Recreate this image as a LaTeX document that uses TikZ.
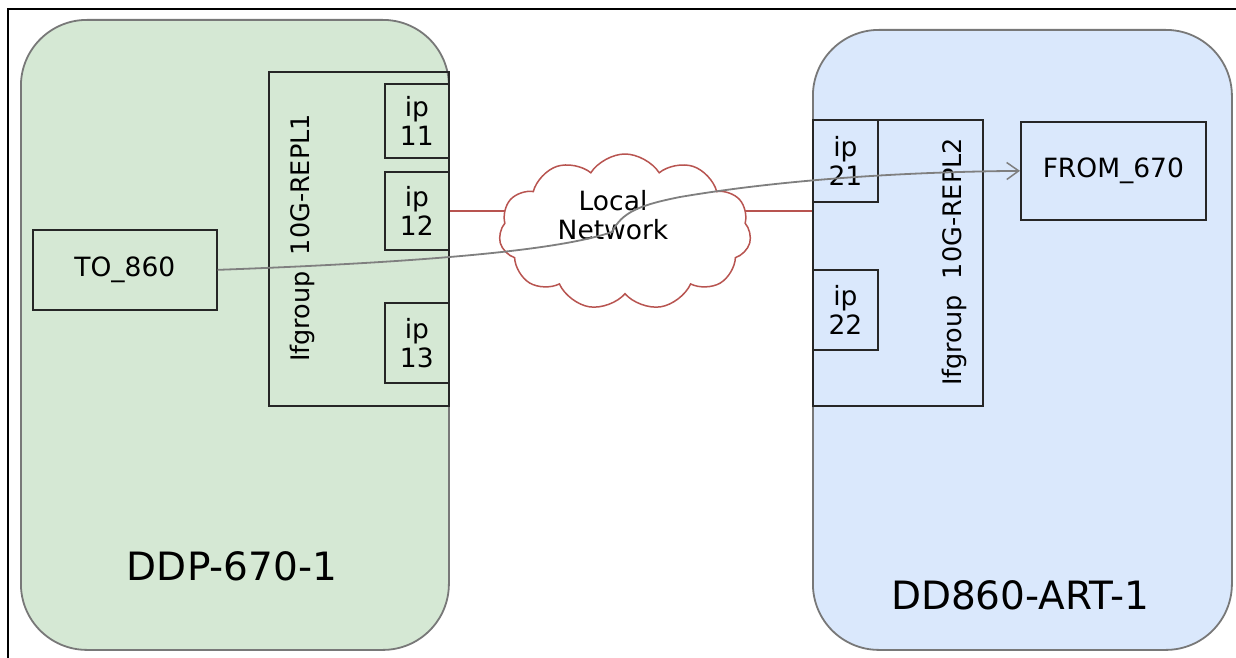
\documentclass[tikz,border=0pt]{standalone}
\usepackage{fontspec}
\setmainfont{DejaVu Sans}
\usetikzlibrary{shapes.symbols,arrows.meta}
\definecolor{gfill}{HTML}{D5E8D4}
\definecolor{bfill}{HTML}{DAE8FC}
\definecolor{cloudred}{HTML}{B85450}
\definecolor{edgegray}{HTML}{7F7F7F}
\definecolor{cgray}{HTML}{787878}
\begin{document}
\begin{tikzpicture}[x=1pt,y=-1pt,
  container/.style={draw=cgray, line width=1.8pt, rounded corners=66pt, anchor=north west, inner sep=0pt},
  box/.style={draw=black!85, line width=1.7pt, anchor=north west, inner sep=0pt},
  txt/.style={font=\fontsize{26.5}{29}\selectfont, align=center, inner sep=0pt},
  vtxt/.style={font=\fontsize{25.5}{29}\selectfont, inner sep=0pt, rotate=90},
  big/.style={font=\fontsize{39}{44}\selectfont, inner sep=0pt},
  flow/.style={draw=edgegray, line width=1.8pt, -{Straight Barb[length=12pt,width=17pt,line width=1.5pt]}},
  redline/.style={draw=cloudred, line width=1.5pt}]
\useasboundingbox (0,0) rectangle (1236,658);
\fill[white] (0,0) rectangle (1236,658);
% frame
\draw[line width=2pt] (8,658) -- (8,9) -- (1236,9);
% containers
\node[container, fill=gfill, minimum width=428pt, minimum height=630pt] (ddp) at (20,19) {};
\node[container, fill=bfill, minimum width=419pt, minimum height=620pt] (dd) at (812,29) {};
\node[big] (ddplbl) at (232,566) {DDP-670-1};
\node[big] (ddlbl) at (1020,595) {DD860-ART-1};
% left side
\node[box, minimum width=180pt, minimum height=334pt] (grp1) at (268,71) {};
\node[vtxt] (grp1lbl) at (302,238) {Ifgroup\ \ 10G-REPL1};
\node[box, minimum width=64pt, minimum height=74pt] (ip11) at (384,83) {};
\node[txt] at (ip11.center) {ip\\11};
\node[box, minimum width=64pt, minimum height=78pt] (ip12) at (384,171) {};
\node[txt] at (ip12.center) {ip\\12};
\node[box, minimum width=64pt, minimum height=80pt] (ip13) at (384,302) {};
\node[txt] at (ip13.center) {ip\\13};
\node[box, minimum width=184pt, minimum height=80pt] (to) at (32,229) {};
\node[txt] at (to.center) {TO\_860};
% right side
\node[box, minimum width=170pt, minimum height=286pt] (grp2) at (812,119) {};
\node[vtxt] (grp2lbl) at (954,262) {Ifgroup\ \ 10G-REPL2};
\node[box, minimum width=65pt, minimum height=82pt] (ip21) at (812,119) {};
\node[txt] at (ip21.center) {ip\\21};
\node[box, minimum width=65pt, minimum height=80pt] (ip22) at (812,269) {};
\node[txt] at (ip22.center) {ip\\22};
\node[box, minimum width=185pt, minimum height=98pt] (from) at (1020,121) {};
\node[txt] at (from.center) {FROM\_670};
% network
\draw[redline] (ip12.east) -- (ip12.east -| grp2.west);
\node[cloud, cloud puffs=11, cloud puff arc=115, aspect=1.6, draw=cloudred, fill=white, line width=1.5pt, minimum width=252pt, minimum height=156pt, inner sep=0pt] (net) at (625,232) {};
\node[txt] (netlbl) at (613,215) {Local\\Network};
% flow
\draw[flow] (to.east) .. controls (430,262) and (560,250) .. (612,232) .. controls (622,212) and (640,205) .. (680,197) .. controls (780,180) and (900,172) .. (from.west);
\end{tikzpicture}
\end{document}
